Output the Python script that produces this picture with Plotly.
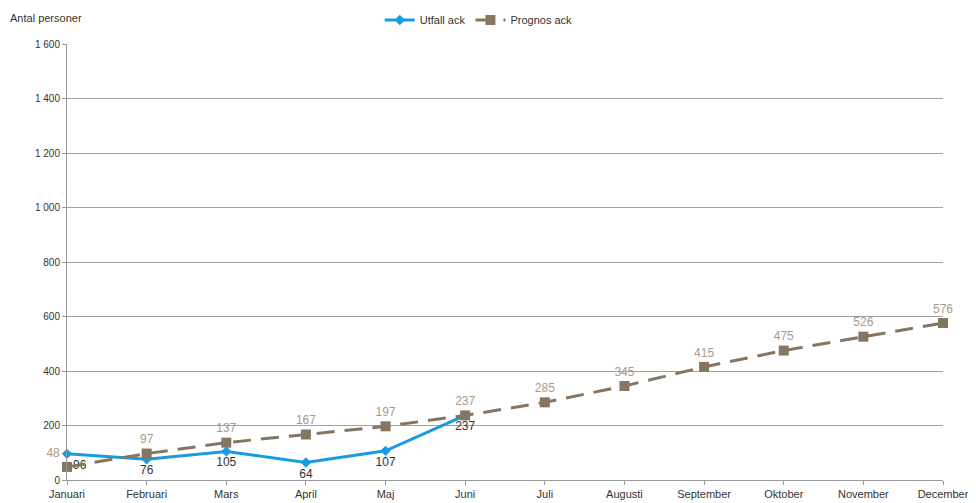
import plotly.graph_objects as go

months = ['Januari', 'Februari', 'Mars', 'April', 'Maj', 'Juni', 'Juli',
          'Augusti', 'September', 'Oktober', 'November', 'December']
utfall = [96, 76, 105, 64, 107, 237]
prognos = [48, 97, 137, 167, 197, 237, 285, 345, 415, 475, 526, 576]
yticks = [0, 200, 400, 600, 800, 1000, 1200, 1400, 1600]
ytick_text = ['0', '200', '400', '600', '800', '1 000', '1 200', '1 400', '1 600']

fig = go.Figure()

fig.add_trace(go.Scatter(x=months[:len(utfall)], y=utfall,
                         mode='lines+markers+text',
                         name='Utfall ack',
                         line={'color': '#1a9be0', 'width': 3},
                         marker={'symbol': 'diamond', 'size': 8, 'color': '#1a9be0'},
                         text=[str(v) for v in utfall],
                         textposition=['bottom right'] + ['bottom center'] * 5,
                         textfont={'color': '#333333', 'size': 12},
                         cliponaxis=False))

fig.add_trace(go.Scatter(x=months, y=prognos,
                         mode='lines+markers+text',
                         name='Prognos ack',
                         line={'color': '#857561', 'width': 3, 'dash': '18px,10px'},
                         marker={'symbol': 'square', 'size': 10, 'color': '#857561'},
                         text=[str(v) for v in prognos],
                         textposition=['top left'] + ['top center'] * 11,
                         textfont={'color': '#a89a88', 'size': 12},
                         cliponaxis=False))

fig.update_layout(
    width=976, height=503,
    margin=dict(l=59, r=41, t=36, b=31, autoexpand=False),
    plot_bgcolor='white', paper_bgcolor='white',
    font={'family': 'Liberation Sans, Arial', 'size': 11, 'color': '#333333'},
    showlegend=True,
    legend=dict(orientation='h', x=0.47, xanchor='center', y=1.055, yanchor='middle',
                font={'size': 11}, bgcolor='rgba(0,0,0,0)'),
    annotations=[dict(text='Antal personer', xref='paper', yref='paper',
                      x=-0.0674, y=1.06, xanchor='left', yanchor='middle',
                      showarrow=False)]
)

fig.update_xaxes(range=[0, 11], showgrid=False, showline=True, linecolor='#999999',
                 linewidth=1, ticks='outside', tickcolor='#999999', ticklen=4,
                 tickfont={'size': 11})
fig.update_yaxes(range=[0, 1600], tickvals=yticks, ticktext=ytick_text,
                 showgrid=True, gridcolor='#a0a0a0', gridwidth=1,
                 showline=True, linecolor='#999999', linewidth=1,
                 ticks='outside', tickcolor='#999999', ticklen=4,
                 zeroline=False, tickfont={'size': 10})

fig.write_html("out.html")
